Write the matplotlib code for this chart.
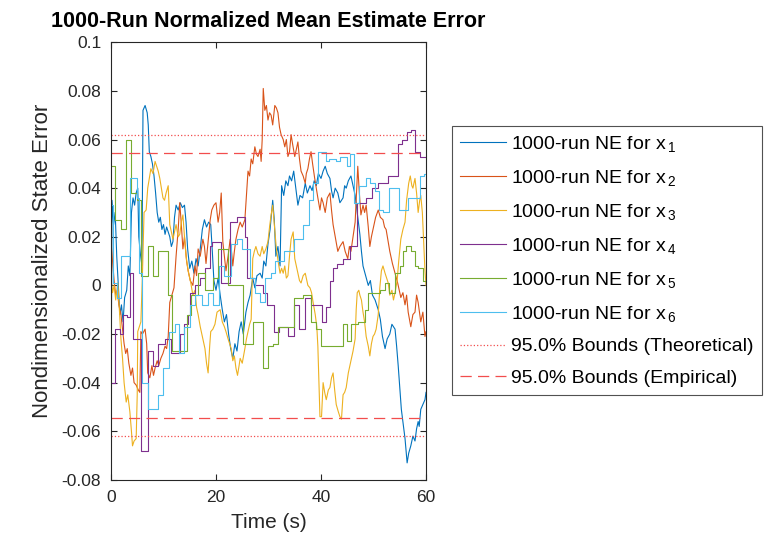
import numpy as np
import matplotlib
matplotlib.use('Agg')
import matplotlib.pyplot as plt
from matplotlib.ticker import FuncFormatter

plt.rcParams['font.family'] = ['Liberation Sans', 'DejaVu Sans']
plt.rcParams['mathtext.default'] = 'regular'

# ---- data ----
t1 = [0, 0.2, 0.5, 0.8, 1.1, 1.4, 1.7, 2.0, 2.3, 2.6, 3.0, 3.3, 3.6, 3.9, 4.2, 4.5, 4.8, 5.1, 5.3, 5.6,
      5.9, 6.1, 6.5, 6.9, 7.1, 7.3, 7.6, 7.9, 8.2, 8.5, 8.8, 9.1, 9.4, 9.7, 10.0, 10.3, 10.6, 10.9, 11.2, 11.5,
      11.8, 12.1, 12.4, 12.8, 13.2, 13.6, 14.0, 14.3, 14.6, 15.0, 15.4, 15.8, 16.2, 16.6, 17.0, 17.4, 17.8, 18.2, 18.6, 19.0,
      19.3, 19.6, 20.0, 20.4, 20.8, 21.2, 21.6, 22.0, 22.4, 22.8, 23.2, 23.6, 24.0, 24.4, 24.8, 25.2, 25.7, 26.1, 26.5, 27.0,
      27.4, 27.8, 28.4, 28.8, 29.1, 29.5, 29.9, 30.3, 30.6, 30.8, 31.1, 31.4, 31.8, 32.2, 32.5, 32.9, 33.3, 33.7, 34.0, 34.4,
      34.8, 35.2, 35.6, 36.0, 36.5, 37.0, 37.4, 37.9, 38.3, 38.7, 39.1, 39.5, 40.0, 40.4, 40.8, 41.2, 41.7, 42.0, 42.3, 42.7,
      43.2, 43.6, 44.2, 44.5, 44.8, 45.2, 45.7, 46.1, 46.5, 46.9, 47.4, 47.7, 48.0, 48.5, 49.0, 49.4, 49.8, 50.3, 50.9, 51.3,
      51.7, 52.2, 52.6, 53.1, 53.5, 54.1, 54.4, 54.7, 55.0, 55.3, 55.7, 56.0, 56.2, 56.4, 56.7, 57.1, 57.5, 57.9, 58.2, 58.5,
      58.7, 59.0, 59.4, 59.8, 60.0]
ne1 = [-0.055, 0.035, 0.025, 0.03, 0.012, 0.0, -0.012, -0.008, -0.015, -0.005, -0.002, 0.008, 0.004, 0.03, 0.036, 0.033, 0.038, 0.04, 0.02, 0.013,
       0.008, 0.072, 0.074, 0.071, 0.066, 0.055, 0.053, 0.05, 0.045, 0.038, 0.03, 0.026, 0.028, 0.023, 0.025, 0.021, 0.024, 0.022, 0.02, 0.016,
       0.018, 0.028, 0.033, 0.031, 0.034, 0.032, 0.033, 0.026, 0.015, 0.007, 0.01, 0.005, 0.011, 0.008, 0.015, 0.023, 0.027, 0.024, 0.026, 0.025,
       0.014, 0.002, -0.002, 0.003, -0.004, -0.01, -0.015, -0.012, -0.02, -0.026, -0.03, -0.024, -0.027, -0.019, -0.015, -0.02, -0.011, -0.007, -0.004, 0.003,
       -0.001, 0.004, 0.005, 0.003, 0.01, 0.008, 0.017, 0.023, 0.03, 0.035, 0.027, 0.012, 0.016, 0.008, 0.041, 0.037, 0.043, 0.041, 0.045, 0.043,
       0.047, 0.04, 0.033, 0.037, 0.036, 0.042, 0.038, 0.041, 0.039, 0.043, 0.041, 0.046, 0.044, 0.047, 0.049, 0.046, 0.044, 0.039, 0.036, 0.04,
       0.038, 0.034, 0.036, 0.041, 0.04, 0.043, 0.045, 0.041, 0.037, 0.03, 0.021, 0.014, 0.008, 0.004, 0.0, 0.002, -0.004, -0.006, -0.01, -0.014,
       -0.021, -0.026, -0.022, -0.02, -0.016, -0.018, -0.025, -0.033, -0.042, -0.051, -0.058, -0.063, -0.068, -0.073, -0.069, -0.066, -0.062, -0.064, -0.059, -0.056,
       -0.058, -0.051, -0.049, -0.047, -0.044]

t2 = [0, 0.3, 0.6, 0.9, 1.2, 1.5, 1.9, 2.2, 2.5, 2.8, 3.1, 3.4, 3.8, 4.1, 4.4, 4.8, 5.2, 5.5, 5.7, 6.0,
      6.5, 6.8, 7.0, 7.4, 7.8, 8.1, 8.4, 8.8, 9.1, 9.5, 9.9, 10.3, 10.6, 10.9, 11.2, 11.6, 12.0, 12.4, 12.8, 13.1,
      13.4, 13.7, 14.0, 14.4, 14.7, 15.1, 15.6, 16.0, 16.3, 16.6, 17.0, 17.5, 17.8, 18.1, 18.5, 18.9, 19.2, 19.6, 20.0, 20.4,
      20.7, 21.0, 21.3, 21.6, 21.9, 22.3, 22.7, 23.0, 23.2, 23.5, 23.8, 24.2, 24.6, 25.0, 25.5, 25.8, 26.1, 26.4, 26.7, 27.0,
      27.4, 27.7, 28.0, 28.4, 28.6, 28.8, 29.0, 29.3, 29.6, 29.9, 30.2, 30.5, 30.8, 31.2, 31.5, 31.8, 32.1, 32.4, 32.8, 33.1,
      33.4, 33.7, 34.0, 34.3, 34.6, 35.0, 35.3, 35.6, 35.9, 36.2, 36.6, 37.0, 37.2, 37.5, 37.8, 38.1, 38.4, 38.8, 39.1, 39.4,
      39.8, 40.1, 40.4, 40.8, 41.2, 41.7, 42.0, 42.3, 42.7, 43.2, 43.6, 44.2, 44.6, 45.1, 45.4, 45.7, 46.1, 46.5, 46.8, 47.0,
      47.3, 47.6, 48.0, 48.3, 48.6, 49.0, 49.3, 49.6, 49.9, 50.4, 50.9, 51.3, 51.8, 52.1, 52.4, 52.8, 53.1, 53.6, 54.1, 54.6,
      55.2, 55.6, 56.0, 56.3, 56.6, 57.1, 57.5, 57.9, 58.2, 58.5, 58.8, 59.0, 59.4, 59.8, 60.0]
ne2 = [0.018, 0.01, 0.002, -0.004, -0.002, -0.008, -0.012, -0.018, -0.024, -0.028, -0.026, -0.032, -0.037, -0.034, -0.04, -0.041, -0.043, -0.044, -0.019, -0.02,
       -0.018, -0.024, -0.036, -0.038, -0.033, -0.037, -0.034, -0.031, -0.033, -0.03, -0.028, -0.025, -0.026, -0.021, -0.007, -0.004, -0.001, 0.012, 0.023, 0.034,
       0.025, 0.015, 0.02, 0.01, 0.006, 0.002, 0.0, 0.008, 0.004, 0.015, 0.012, 0.019, 0.016, 0.009, 0.018, 0.027, 0.031, 0.033, 0.034, 0.026,
       0.03, 0.038, 0.018, 0.012, 0.006, 0.012, 0.019, 0.013, 0.008, 0.014, 0.019, 0.023, 0.026, 0.024, 0.027, 0.037, 0.047, 0.045, 0.052, 0.05,
       0.057, 0.054, 0.053, 0.056, 0.051, 0.06, 0.081, 0.072, 0.074, 0.068, 0.071, 0.07, 0.066, 0.074, 0.073, 0.071, 0.065, 0.062, 0.06, 0.057,
       0.06, 0.053, 0.055, 0.062, 0.058, 0.053, 0.056, 0.059, 0.052, 0.047, 0.045, 0.042, 0.046, 0.048, 0.052, 0.055, 0.05, 0.044, 0.04, 0.036,
       0.031, 0.036, 0.034, 0.03, 0.036, 0.038, 0.031, 0.025, 0.02, 0.014, 0.016, 0.018, 0.014, 0.011, 0.016, 0.014, 0.02, 0.026, 0.04, 0.049,
       0.038, 0.029, 0.033, 0.03, 0.033, 0.024, 0.016, 0.02, 0.023, 0.028, 0.031, 0.028, 0.027, 0.024, 0.023, 0.018, 0.014, 0.009, 0.005, 0.001,
       -0.005, -0.003, -0.008, -0.004, -0.011, -0.017, -0.012, -0.011, -0.004, -0.007, -0.012, -0.015, -0.011, -0.021, -0.019]

t3 = [0, 0.3, 0.6, 0.9, 1.3, 1.6, 1.9, 2.2, 2.5, 2.9, 3.2, 3.6, 3.9, 4.1, 4.4, 4.8, 5.0, 5.1, 5.4, 5.7,
      6.0, 6.3, 6.7, 7.0, 7.3, 7.6, 8.0, 8.4, 8.7, 9.0, 9.3, 9.6, 9.9, 10.2, 10.5, 10.9, 11.2, 11.5, 11.8, 12.1,
      12.4, 12.8, 13.1, 13.4, 13.7, 14.0, 14.3, 14.7, 15.2, 15.6, 16.0, 16.3, 16.6, 17.0, 17.4, 17.9, 18.2, 18.5, 18.8, 19.0,
      19.4, 19.8, 20.2, 20.8, 21.2, 21.6, 21.9, 22.3, 22.9, 23.2, 23.5, 23.8, 24.1, 24.4, 24.6, 25.0, 25.5, 25.8, 26.1, 26.4,
      26.7, 27.0, 27.3, 27.6, 28.0, 28.4, 28.8, 29.1, 29.5, 29.9, 30.2, 30.5, 30.8, 31.0, 31.2, 31.5, 31.9, 32.2, 32.5, 32.8,
      33.1, 33.4, 33.7, 34.0, 34.3, 34.7, 35.0, 35.3, 35.6, 35.9, 36.2, 36.6, 37.0, 37.5, 37.9, 38.2, 38.5, 38.9, 39.2, 39.4,
      39.6, 39.8, 40.1, 40.4, 40.7, 41.0, 41.4, 41.7, 42.0, 42.3, 42.6, 42.9, 43.3, 43.6, 43.9, 44.2, 44.5, 44.8, 45.2, 45.5,
      45.8, 46.1, 46.5, 46.7, 46.9, 47.2, 47.4, 47.7, 48.0, 48.3, 48.6, 49.0, 49.3, 49.6, 49.9, 50.2, 50.5, 50.9, 51.2, 51.5,
      51.8, 52.2, 52.5, 52.8, 53.1, 53.5, 53.8, 54.1, 54.5, 54.8, 55.2, 55.6, 56.0, 56.3, 56.7, 57.0, 57.3, 57.5, 57.9, 58.2,
      58.5, 58.8, 59.0, 59.3, 59.6, 59.8, 60.0]
ne3 = [0.003, -0.003, 0.0, -0.006, 0.001, -0.01, -0.022, -0.03, -0.04, -0.048, -0.045, -0.052, -0.06, -0.066, -0.064, -0.063, -0.045, -0.019, -0.017, -0.015,
       0.005, 0.03, 0.031, 0.04, 0.044, 0.048, 0.046, 0.051, 0.049, 0.047, 0.044, 0.04, 0.036, 0.035, 0.038, 0.041, 0.025, 0.022, 0.019, 0.022,
       0.025, 0.02, 0.021, 0.026, 0.029, 0.02, 0.012, 0.006, 0.001, -0.004, -0.002, -0.009, -0.012, -0.017, -0.021, -0.026, -0.032, -0.036, -0.025, -0.019,
       -0.018, -0.016, -0.011, -0.01, -0.015, -0.017, -0.019, -0.022, -0.026, -0.031, -0.029, -0.034, -0.037, -0.033, -0.03, -0.032, -0.026, -0.022, -0.019, -0.016,
       -0.014, 0.011, 0.014, 0.016, 0.013, 0.012, 0.016, 0.013, 0.015, 0.018, 0.024, 0.029, 0.033, 0.028, 0.023, 0.015, 0.009, 0.005, 0.007, 0.005,
       0.008, 0.003, 0.004, 0.012, 0.019, 0.022, 0.011, 0.008, 0.005, 0.002, 0.001, 0.004, 0.005, 0.0, -0.001, -0.003, -0.007, -0.012, -0.017, -0.025,
       -0.04, -0.054, -0.054, -0.04, -0.044, -0.047, -0.043, -0.042, -0.038, -0.036, -0.043, -0.049, -0.052, -0.054, -0.055, -0.045, -0.044, -0.042, -0.036, -0.033,
       -0.03, -0.027, -0.022, -0.01, -0.003, -0.002, -0.004, -0.006, -0.011, -0.015, -0.021, -0.025, -0.029, -0.024, -0.021, -0.02, -0.018, -0.012, -0.001, 0.006,
       0.008, 0.005, 0.003, 0.001, -0.004, -0.002, -0.006, -0.003, 0.002, 0.01, 0.019, 0.023, 0.026, 0.035, 0.042, 0.045, 0.041, 0.04, 0.044, 0.038,
       0.03, 0.035, 0.037, 0.03, 0.015, 0.006, 0.0]

t4 = [0, 0.8, 1.8, 2.3, 3.0, 3.6, 4.2, 5.8, 7.0, 8.0, 9.0, 10.2, 11.4, 13.2, 14.0, 14.6, 15.0, 16.0, 17.0, 18.0,
      18.8, 19.2, 20.9, 22.6, 24.0, 25.5, 26.0, 27.5, 29.0, 29.8, 31.0, 32.0, 33.8, 34.9, 35.9, 37.0, 38.0, 40.1, 41.0, 41.8,
      42.2, 43.1, 44.1, 45.6, 46.9, 48.5, 49.8, 50.8, 52.7, 54.7, 55.5, 56.3, 57.2, 57.9, 58.9, 60.0]
ne4 = [-0.04, -0.018, -0.02, -0.012, -0.013, 0.005, -0.022, -0.068, -0.027, -0.033, -0.024, -0.022, -0.028, -0.02, -0.016, -0.012, -0.003, 0.0, 0.003, 0.007,
       0.016, 0.018, 0.001, 0.026, 0.028, 0.02, 0.003, 0.0, -0.003, -0.008, -0.019, -0.017, -0.021, -0.008, -0.018, -0.005, -0.008, -0.015, -0.009, 0.002,
       0.007, 0.009, 0.011, 0.016, 0.034, 0.036, 0.04, 0.042, 0.045, 0.058, 0.06, 0.063, 0.064, 0.055, 0.053, 0.053]

t5 = [0, 0.8, 1.9, 2.8, 3.8, 4.9, 5.7, 7.0, 8.0, 9.0, 10.9, 11.6, 14.5, 15.2, 16.5, 18.0, 19.4, 20.3, 22.3, 25.1,
      27.0, 29.0, 29.9, 30.8, 31.8, 34.9, 36.5, 38.0, 39.0, 40.0, 44.1, 45.0, 45.7, 47.0, 48.4, 49.0, 51.2, 52.2, 53.0, 54.1,
      55.0, 55.6, 56.2, 57.1, 57.9, 58.5, 59.5, 60.0]
ne5 = [0.049, 0.027, 0.023, 0.06, 0.038, 0.035, 0.004, 0.016, 0.004, 0.014, -0.004, -0.027, -0.012, -0.004, 0.005, -0.002, 0.003, 0.015, 0.0, -0.024,
       -0.015, -0.034, -0.025, -0.024, -0.017, -0.005, -0.004, -0.015, -0.018, -0.025, -0.016, -0.023, -0.016, -0.015, -0.01, -0.003, -0.002, 0.001, -0.003, 0.005,
       0.008, 0.014, 0.016, 0.014, 0.008, 0.007, 0.002, 0.002]

t6 = [0, 0.4, 1.2, 1.9, 2.9, 3.6, 4.9, 5.4, 5.9, 7.0, 8.9, 10.0, 11.0, 12.2, 13.0, 13.9, 15.0, 16.0, 17.4, 18.5,
      19.4, 20.6, 21.6, 22.8, 24.0, 25.0, 26.4, 27.4, 28.4, 29.3, 30.4, 31.2, 33.0, 34.9, 36.5, 37.8, 38.4, 39.4, 40.9, 41.6,
      42.8, 43.7, 44.9, 45.6, 46.2, 47.3, 48.5, 49.4, 50.3, 51.1, 51.8, 53.0, 54.9, 56.5, 58.9, 59.6, 60.0]
ne6 = [0.033, 0.001, -0.005, 0.012, 0.012, 0.044, 0.036, 0.005, -0.04, -0.051, -0.045, -0.034, -0.019, -0.016, -0.028, -0.017, -0.008, -0.004, -0.008, -0.003,
       -0.008, 0.008, 0.004, 0.017, 0.019, 0.015, 0.003, -0.003, -0.007, 0.003, 0.005, 0.01, 0.014, 0.019, 0.025, 0.035, 0.042, 0.055, 0.051, 0.052,
       0.051, 0.053, 0.049, 0.054, 0.034, 0.041, 0.044, 0.042, 0.039, 0.031, 0.03, 0.04, 0.031, 0.036, 0.045, 0.046, 0.046]

bound_theory = 0.0620
bound_emp = 0.0545
t_span = [0, 60]

colors = ['#0072BD', '#D95319', '#EDB120', '#7E2F8E', '#77AC30', '#4DBEEE']
bound_color = '#F24D4D'

fig = plt.figure(figsize=(7.76, 5.35), dpi=100)
ax = fig.add_axes([0.143, 0.103, 0.406, 0.818])

lw = 0.8
handles = []
series = [(t1, ne1, 'default'), (t2, ne2, 'default'), (t3, ne3, 'default'),
          (t4, ne4, 'steps-post'), (t5, ne5, 'steps-post'), (t6, ne6, 'steps-post')]
for i, (t, v, ds) in enumerate(series):
    h, = ax.plot(t, v, color=colors[i], lw=lw, drawstyle=ds,
                 label='1000-run NE for x$_{\\,%d}$' % (i + 1))
    handles.append(h)

h, = ax.plot(t_span, [bound_theory] * 2, ':', color=bound_color, lw=0.9, label='95.0% Bounds (Theoretical)')
handles.append(h)
ax.plot(t_span, [-bound_theory] * 2, ':', color=bound_color, lw=0.9)
h, = ax.plot(t_span, [bound_emp] * 2, color=bound_color, lw=0.9, dashes=(9, 5), label='95.0% Bounds (Empirical)')
handles.append(h)
ax.plot(t_span, [-bound_emp] * 2, color=bound_color, lw=0.9, dashes=(9, 5))

ax.set_xlim(0, 60)
ax.set_ylim(-0.08, 0.1)
ax.set_xticks([0, 20, 40, 60])
ax.set_yticks(np.arange(-0.08, 0.1001, 0.02))
ax.yaxis.set_major_formatter(FuncFormatter(lambda v, p: '%g' % round(v, 4)))

axcol = '#262626'
for s in ax.spines.values():
    s.set_color(axcol)
    s.set_linewidth(0.8)
ax.tick_params(direction='in', length=4, width=0.8, top=True, right=True,
               labelsize=12.5, colors=axcol, labelcolor='#262626', pad=7)

ax.set_xlabel('Time (s)', fontsize=15, color='#262626', labelpad=6)
ax.set_ylabel('Nondimensionalized State Error', fontsize=16, color='#262626', labelpad=6)
ax.set_title('1000-Run Normalized Mean Estimate Error', fontsize=15.5, fontweight='bold', pad=11)

leg = fig.legend(handles, [x.get_label() for x in handles],
                 loc='upper left', bbox_to_anchor=(0.5825, 0.7645), borderaxespad=0,
                 fontsize=14, frameon=True, fancybox=False, handlelength=2.4,
                 labelspacing=0.72, handletextpad=0.25, borderpad=0.4)
leg.get_frame().set_edgecolor(axcol)
leg.get_frame().set_linewidth(0.8)

fig.savefig('out.png', dpi=100)
